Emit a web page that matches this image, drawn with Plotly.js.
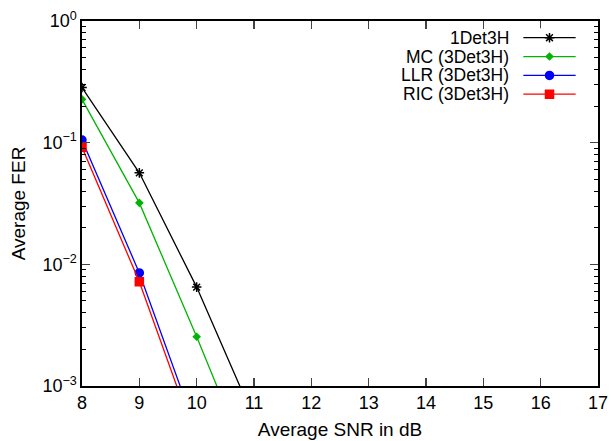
<!DOCTYPE html>
<html>
<head>
<meta charset="utf-8">
<script src="https://cdn.plot.ly/plotly-3.0.1.min.js"></script>
<style>html,body{margin:0;padding:0;background:#fff;}#chart{width:611px;height:441px;}</style>
</head>
<body>
<div id="chart"></div>
<script>
// ---- data ----
const seriesNames = ['1Det3H', 'MC (3Det3H)', 'LLR (3Det3H)', 'RIC (3Det3H)'];
const snr1Det = [8, 9, 10, 11];
const fer1Det = [0.284, 0.0565, 0.0065, 0.00054];
const snrMC = [8, 9, 10, 11];
const ferMC = [0.227, 0.032, 0.00254, 0.00018];
const snrLLR = [8, 9, 10];
const ferLLR = [0.105, 0.0085, 0.00042];
const snrRIC = [8, 9, 10];
const ferRIC = [0.0917, 0.00718, 0.00035];
const xTickVals = [8, 9, 10, 11, 12, 13, 14, 15, 16, 17];
const yTickVals = [1, 0.1, 0.01, 0.001];
const yTickText = ['10<sup>0</sup>', '10<sup>\u22121</sup>', '10<sup>\u22122</sup>', '10<sup>\u22123</sup>'];

// ---- styles ----
const colors = ['#000000', '#00b400', '#0000ff', '#ff0000'];
const symbols = ['asterisk-open', 'diamond', 'circle', 'square'];
const sizes = [8, 5, 8, 8];
const xs = [snr1Det, snrMC, snrLLR, snrRIC];
const ys = [fer1Det, ferMC, ferLLR, ferRIC];

const font = 'Liberation Sans, Arial, Helvetica, sans-serif';
const traces = [];
const annotations = [];
for (let i = 0; i < seriesNames.length; i++) {
  const mk = {symbol: symbols[i], size: sizes[i], color: colors[i], line: {color: colors[i], width: 1.5}};
  traces.push({
    x: xs[i], y: ys[i], type: 'scatter', mode: 'lines+markers', name: seriesNames[i],
    line: {color: colors[i], width: 1.3}, marker: mk, cliponaxis: true, showlegend: false
  });
  // custom legend sample (symbol on the right of the text, like the reference)
  traces.push({
    x: [0, 1], y: [i, i], xaxis: 'x2', yaxis: 'y2', type: 'scatter', mode: 'lines',
    line: {color: colors[i], width: 1.3}, showlegend: false, hoverinfo: 'skip'
  });
  traces.push({
    x: [0.5], y: [i], xaxis: 'x2', yaxis: 'y2', type: 'scatter', mode: 'markers',
    marker: mk, showlegend: false, hoverinfo: 'skip'
  });
  annotations.push({
    text: seriesNames[i], xref: 'paper', yref: 'y2', x: 0.829, y: i,
    xanchor: 'right', yanchor: 'middle', showarrow: false, borderpad: 0,
    font: {family: font, size: 17.5, color: '#000'}
  });
}

const minorVals = [];
[0.001, 0.01, 0.1].forEach(d => { for (let k = 2; k <= 9; k++) minorVals.push(+(k * d).toPrecision(3)); });

const layout = {
  width: 611, height: 441,
  margin: {l: 82, r: 13, t: 21, b: 55},
  paper_bgcolor: '#fff', plot_bgcolor: '#fff',
  font: {family: font, size: 18, color: '#000'},
  showlegend: false,
  xaxis: {
    range: [8, 17], tickvals: xTickVals, ticks: 'inside', ticklen: 8, tickwidth: 1.2,
    showline: true, linewidth: 1.6, linecolor: '#000', mirror: 'ticks',
    showgrid: false, zeroline: false,
    tickfont: {family: font, size: 18}, automargin: false,
    title: {text: 'Average SNR in dB', font: {family: font, size: 19}, standoff: 10}
  },
  yaxis: {
    type: 'log', range: [-3, 0], tickvals: yTickVals, ticktext: yTickText,
    ticks: 'inside', ticklen: 8, tickwidth: 1.2,
    minor: {tickvals: minorVals, ticks: 'inside', ticklen: 4, tickwidth: 1, tickcolor: '#000', showgrid: false},
    showline: true, linewidth: 1.6, linecolor: '#000', mirror: 'ticks',
    showgrid: false, zeroline: false,
    tickfont: {family: font, size: 18}, automargin: false,
    title: {text: 'Average FER', font: {family: font, size: 19}, standoff: 12}
  },
  xaxis2: {domain: [0.855, 0.957], range: [0, 1], visible: false, fixedrange: true},
  yaxis2: {domain: [0.7736, 0.98], range: [3.5, -0.5], visible: false, fixedrange: true, anchor: 'x2'},
  annotations: annotations
};

Plotly.newPlot('chart', traces, layout, {staticPlot: true, displayModeBar: false});
</script>
</body>
</html>
